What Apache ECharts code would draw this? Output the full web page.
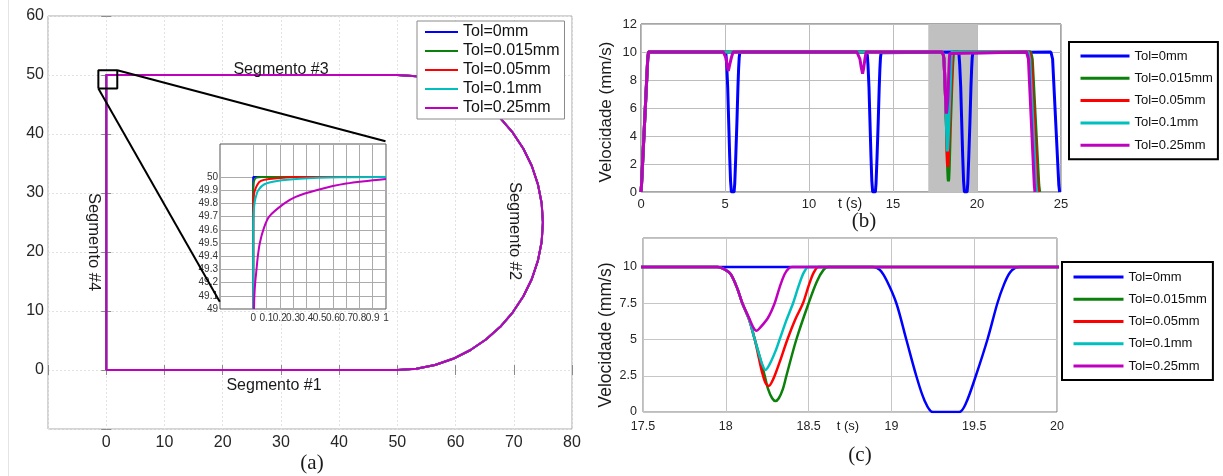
<!DOCTYPE html>
<html><head><meta charset="utf-8">
<script src="https://cdn.jsdelivr.net/npm/echarts@6/dist/echarts.min.js"></script>
<style>html,body{margin:0;padding:0;background:#fff}#c{width:1223px;height:476px}</style>
</head><body><div id="c"></div>
<script>
// ---------- DATA ----------
const tolNames = ['Tol=0mm','Tol=0.015mm','Tol=0.05mm','Tol=0.1mm','Tol=0.25mm'];

// (a) trajectory (mm): segment #1, arc (#2), segment #3, segment #4
const trajectoryXY = [
  [0,0],[50,0],
  [53.26,0.21],[56.47,0.85],[59.57,1.90],[62.5,3.35],[65.22,5.17],[67.68,7.32],[69.83,9.78],
  [71.65,12.5],[73.10,15.43],[74.15,18.53],[74.79,21.74],[75,25],[74.79,28.26],[74.15,31.47],
  [73.10,34.57],[71.65,37.5],[69.83,40.22],[67.68,42.68],[65.22,44.83],[62.5,46.65],[59.57,48.10],
  [56.47,49.15],[53.26,49.79],[50,50],
  [0,50],[0,0]
];
const aXTicks = [0,10,20,30,40,50,60,70,80];
const aYTicks = [0,10,20,30,40,50,60];
const zoomBoxXY = [[-1.35,47.7],[1.9,47.7],[1.9,50.8],[-1.35,50.8],[-1.35,47.7]];
const connectorUpperXY = [[1.9,50.8],[47.97,38.78]];
const connectorLowerXY = [[-1.35,47.7],[19.5,11.55]];

// inset: corner detail near (0,50)
const insetXTicks = [0,0.1,0.2,0.3,0.4,0.5,0.6,0.7,0.8,0.9,1];
const insetYTicks = [49,49.1,49.2,49.3,49.4,49.5,49.6,49.7,49.8,49.9,50];
const insetTol0   = [[0,49],[0,50],[1,50]];
const insetTol015 = [[0,49],[0,49.9],[0.003,49.95],[0.01,49.98],[0.025,49.995],[0.06,50],[1,50]];
const insetTol05  = [[0,49],[0,49.75],[0.004,49.85],[0.01,49.89],[0.03,49.94],[0.058,49.97],[0.12,49.985],[0.25,49.997],[0.4,50],[1,50]];
const insetTol1   = [[0,49],[0,49.6],[0.003,49.72],[0.01,49.8],[0.02,49.85],[0.038,49.9],[0.084,49.945],[0.18,49.97],[0.35,49.987],[0.65,49.998],[1,50]];
const insetTol25  = [[0.006,49],[0.009,49.1],[0.015,49.2],[0.025,49.3],[0.035,49.4],[0.05,49.5],[0.076,49.6],[0.12,49.7],[0.235,49.8],[0.32,49.85],[0.476,49.9],[0.70,49.95],[1.0,49.985]];

// (b)/(c) velocity (t [s], v [mm/s])
const velTol0 = [
  [0,0],[0.03,0.5],[0.40,9.5],[0.45,10],[0.6,10],
  [4.9,10],[5.02,10],[5.06,9.8],[5.10,9.1],[5.16,7.5],[5.22,5],[5.28,2.5],[5.33,0.8],[5.38,0],[5.54,0],[5.58,0.6],[5.64,2.5],[5.71,5],[5.77,7.5],[5.81,8.8],[5.845,9.6],[5.88,9.95],[5.91,10],[6.0,10],
  [13.35,10],[13.43,10],[13.47,9.8],[13.51,9.1],[13.57,7.5],[13.63,5],[13.69,2.5],[13.74,0.8],[13.79,0],[13.95,0],[13.99,0.6],[14.05,2.5],[14.12,5],[14.18,7.5],[14.22,8.8],[14.255,9.6],[14.29,9.95],[14.32,10],[14.4,10],
  [18.85,10],[18.89,10],[18.93,9.8],[18.97,9.1],[19.03,7.5],[19.09,5],[19.15,2.5],[19.20,0.8],[19.25,0],[19.41,0],[19.45,0.6],[19.51,2.5],[19.58,5],[19.64,7.5],[19.68,8.8],[19.715,9.6],[19.75,9.95],[19.78,10],[19.82,10],
  [24.4,10],[24.46,10],[24.50,9.5],[24.87,0.5],[24.92,0]
];
const velTol015 = [
  [0,0],[0.03,0.5],[0.40,9.5],[0.45,10],[0.6,10],
  [17.9,10],[17.95,10],[17.99,9.85],[18.03,9.5],[18.07,8.5],[18.10,7.5],[18.14,6.4],[18.175,5.0],[18.205,3.8],[18.235,2.5],[18.255,1.6],[18.28,0.95],[18.30,0.76],[18.32,0.95],[18.345,1.6],[18.366,2.5],[18.426,5.0],[18.50,7.5],[18.55,9.0],[18.59,9.8],[18.62,10],[18.66,10],
  [23.2,10],[23.25,10],[23.29,9.5],[23.68,0.5],[23.73,0]
];
const velTol05 = [
  [0,0],[0.03,0.5],[0.40,9.5],[0.45,10],[0.6,10],
  [17.9,10],[17.95,10],[17.99,9.85],[18.03,9.5],[18.07,8.5],[18.10,7.5],[18.14,6.4],[18.175,5.0],[18.20,3.7],[18.22,2.7],[18.24,2.0],[18.26,1.8],[18.275,2.0],[18.295,2.5],[18.33,3.6],[18.372,5.0],[18.42,6.4],[18.466,7.5],[18.50,8.7],[18.53,9.6],[18.56,10],[18.6,10],
  [23.12,10],[23.18,10],[23.22,9.5],[23.60,0.5],[23.65,0]
];
const velTol1 = [
  [0,0],[0.03,0.5],[0.40,9.5],[0.45,10],[0.6,10],
  [17.9,10],[17.95,10],[17.99,9.85],[18.03,9.5],[18.07,8.5],[18.10,7.5],[18.14,6.4],[18.175,5.0],[18.20,4.0],[18.22,3.3],[18.24,2.9],[18.265,3.3],[18.30,4.2],[18.325,5.0],[18.365,6.3],[18.406,7.5],[18.44,8.7],[18.47,9.6],[18.50,10],[18.55,10],
  [23.05,10],[23.10,10],[23.14,9.5],[23.51,0.5],[23.56,0]
];
const velTol25 = [
  [0,0],[0.03,0.5],[0.40,9.5],[0.45,10],[0.6,10],
  [4.9,10],[4.98,10],[5.05,9.6],[5.12,9.1],[5.2,8.65],[5.28,9.1],[5.38,9.6],[5.48,10],[5.6,10],
  [12.85,10],[12.95,10],[13.03,9.5],[13.11,8.9],[13.19,8.45],[13.26,8.9],[13.33,9.5],[13.40,10],[13.5,10],
  [17.9,10],[17.95,10],[17.99,9.85],[18.03,9.5],[18.07,8.5],[18.10,7.5],[18.14,6.5],[18.165,5.85],[18.185,5.6],[18.21,5.85],[18.255,6.5],[18.295,7.5],[18.325,8.6],[18.355,9.5],[18.38,9.9],[18.40,10],[18.45,10],
  [22.95,10],[23.02,10],[23.06,9.5],[23.41,0.5],[23.45,0]
];
const shadeRange = [17.1, 20];
const cYTicks = [0,2.5,5,7.5,10];

// ---------- CHART ----------
const tolColors = ['#0000ff','#0b800b','#ff0000','#00bfbf','#bf00bf'];
const insetData = [insetTol0, insetTol015, insetTol05, insetTol1, insetTol25];
const velData = [velTol0, velTol015, velTol05, velTol1, velTol25];
const FONT = 'Liberation Sans, Arial, sans-serif';
const SERIF = 'Liberation Serif, Times New Roman, serif';

const chart = echarts.init(document.getElementById('c'), null, {renderer:'canvas', width:1223, height:476});

const series = [];
// (a) main trajectory
tolNames.forEach((n,i) => series.push({
  type:'line', name:n, xAxisIndex:0, yAxisIndex:0, data:trajectoryXY, symbol:'none',
  lineStyle:{color:tolColors[i], width:2}, itemStyle:{color:tolColors[i]}, z:2, silent:true
}));
[zoomBoxXY, connectorUpperXY, connectorLowerXY].forEach((d,k) => series.push({
  type:'line', name:'zoom'+k, xAxisIndex:0, yAxisIndex:0, data:d, symbol:'none',
  lineStyle:{color:'#000', width:2}, z:3, silent:true
}));
// inset grid lines
series.push({
  type:'line', name:'insetGrid', xAxisIndex:2, yAxisIndex:2, data:[[0,49]], symbol:'none',
  lineStyle:{width:0}, z:2, silent:true,
  markLine:{silent:true, symbol:['none','none'], label:{show:false}, animation:false,
    lineStyle:{color:'#ababab', width:1, type:'solid'},
    data: insetXTicks.map(v => ({xAxis:v})).concat(insetYTicks.map(v => ({yAxis:v})))}
});
tolNames.forEach((n,i) => series.push({
  type:'line', name:n, xAxisIndex:2, yAxisIndex:2, data:insetData[i], symbol:'none', smooth:0.3,
  lineStyle:{color:tolColors[i], width:2}, itemStyle:{color:tolColors[i]}, z:6, silent:true
}));
// (b) shade
series.push({
  type:'line', name:'shade', xAxisIndex:3, yAxisIndex:3, data:[[shadeRange[0],10]], symbol:'none',
  lineStyle:{width:0}, z:1, silent:true,
  markArea:{silent:true, itemStyle:{color:'#c0c0c0', opacity:1}, data:[[{xAxis:shadeRange[0]},{xAxis:shadeRange[1]}]]}
});
tolNames.forEach((n,i) => series.push({
  type:'line', name:n, xAxisIndex:3, yAxisIndex:3, data:velData[i], symbol:'none',
  lineStyle:{color:tolColors[i], width:3}, itemStyle:{color:tolColors[i]}, z:3, silent:true
}));
// (c)
tolNames.forEach((n,i) => series.push({
  type:'line', name:n, xAxisIndex:4, yAxisIndex:4, data:velData[i], symbol:'none', smooth:0.3,
  lineStyle:{color:tolColors[i], width:2.5}, itemStyle:{color:tolColors[i]}, z:3, silent:true
}));

const lbl = (size, margin, extra) => Object.assign({fontSize:size, margin:margin, color:'#262626', fontFamily:FONT}, extra||{});
const noLine = {show:false};
const aSplit = {show:true, lineStyle:{color:'#e2e2e2', type:[2,2], width:1}};
const bSplit = {show:true, lineStyle:{color:'#bdbdbd', width:1}};
const cSplit = {show:true, lineStyle:{color:'#c6c6c6', width:1}};
const aTick = {show:true, inside:true, length:5, lineStyle:{color:'#8c8c8c'}};

const legendBase = {orient:'vertical', data:tolNames, itemStyle:{opacity:0}, selectedMode:false, z:10};
const txt = (text, x, y, size, fam, extra) => Object.assign({type:'text', x:x, y:y, silent:true, z:5,
  style:{text:text, fontSize:size, fontFamily:fam, fill:'#1a1a1a', align:'center', verticalAlign:'middle', textAlign:'center', textVerticalAlign:'middle'}}, extra||{});

const option = {
  animation:false,
  backgroundColor:'#fff',
  grid:[
    {left:48, top:16, width:524, height:413, show:true, borderColor:'#a8a8a8', borderWidth:1, backgroundColor:'transparent'},
    {left:220, top:144, width:166, height:165, show:true, borderColor:'#555', borderWidth:1, backgroundColor:'#fff', z:1},
    {left:641, top:24, width:420, height:168, show:true, borderColor:'#4d4d4d', borderWidth:1, backgroundColor:'transparent'},
    {left:643, top:238, width:414, height:174, show:true, borderColor:'#7a7a7a', borderWidth:1, backgroundColor:'transparent'}
  ],
  xAxis:[
    {gridIndex:0, type:'value', min:-10, max:80, interval:10, axisLine:noLine, axisTick:aTick,
     axisLabel:lbl(16,6,{customValues:aXTicks}), splitLine:aSplit},
    {gridIndex:0, type:'value', position:'top', min:-10, max:80, interval:10, axisLine:noLine, axisTick:aTick,
     axisLabel:{show:false}, splitLine:{show:false}},
    {gridIndex:1, type:'value', min:-0.25, max:1, axisLine:noLine, axisTick:{show:false},
     axisLabel:lbl(10,4,{customValues:insetXTicks, color:'#333'}), splitLine:{show:false}, z:2},
    {gridIndex:2, type:'value', min:0, max:25, interval:5, axisLine:noLine, axisTick:{show:false},
     axisLabel:lbl(13,6), splitLine:bSplit},
    {gridIndex:3, type:'value', min:17.5, max:20, interval:0.5, axisLine:noLine, axisTick:{show:false},
     axisLabel:lbl(12.5,8), splitLine:cSplit}
  ],
  yAxis:[
    {gridIndex:0, type:'value', min:-10, max:60, interval:10, axisLine:noLine, axisTick:aTick,
     axisLabel:lbl(16,4,{customValues:aYTicks}), splitLine:aSplit},
    {gridIndex:0, type:'value', position:'right', min:-10, max:60, interval:10, axisLine:noLine, axisTick:aTick,
     axisLabel:{show:false}, splitLine:{show:false}},
    {gridIndex:1, type:'value', min:49, max:50.25, axisLine:noLine, axisTick:{show:false},
     axisLabel:lbl(10,2,{customValues:insetYTicks, color:'#333'}), splitLine:{show:false}, z:2},
    {gridIndex:2, type:'value', min:0, max:12, interval:2, axisLine:noLine, axisTick:{show:false},
     axisLabel:lbl(13,4), splitLine:bSplit},
    {gridIndex:3, type:'value', min:0, max:12, interval:2.5, axisLine:noLine, axisTick:{show:false},
     axisLabel:lbl(12.5,6,{customValues:cYTicks}), splitLine:cSplit}
  ],
  legend:[
    Object.assign({}, legendBase, {left:417, top:21, padding:[3,5,3,7], itemWidth:33, itemHeight:16, itemGap:3,
      textStyle:{fontSize:16, lineHeight:16, color:'#111', fontFamily:FONT},
      borderColor:'#8a8a8a', borderWidth:1, backgroundColor:'#fff', lineStyle:{width:2}}),
    Object.assign({}, legendBase, {left:1069, top:42, padding:[7,5,7,10], itemWidth:49, itemHeight:14, itemGap:8.3,
      textStyle:{fontSize:13, lineHeight:14, color:'#111', fontFamily:FONT},
      borderColor:'#000', borderWidth:2, backgroundColor:'#fff', lineStyle:{width:3}}),
    Object.assign({}, legendBase, {left:1062, top:262, padding:[8,6,7,10], itemWidth:50, itemHeight:14, itemGap:8.25,
      textStyle:{fontSize:13, lineHeight:14, color:'#111', fontFamily:FONT},
      borderColor:'#000', borderWidth:2, backgroundColor:'#fff', lineStyle:{width:3}})
  ],
  graphic:[
    {type:'line', shape:{x1:8.5, y1:0, x2:8.5, y2:476}, style:{stroke:'#e4e4e4', lineWidth:1}, silent:true, z:0},
    txt('Segmento #3', 281, 70, 16, FONT),
    txt('Segmento #1', 274, 386, 16, FONT),
    txt('Segmento #4', 94, 242, 16.5, FONT, {rotation:-Math.PI/2}),
    txt('Segmento #2', 515, 231, 16.5, FONT, {rotation:-Math.PI/2}),
    txt('(a)', 312, 463, 21, SERIF),
    txt('(b)', 864, 221, 21, SERIF),
    txt('(c)', 860, 455, 21, SERIF),
    txt('t (s)', 850, 204, 14, FONT),
    txt('t (s)', 848, 426, 13, FONT),
    txt('Velocidade (mm/s)', 606, 112, 17, FONT, {rotation:Math.PI/2}),
    txt('Velocidade (mm/s)', 606, 335, 17.5, FONT, {rotation:Math.PI/2})
  ],
  series: series
};
chart.setOption(option);
</script>
</body></html>
